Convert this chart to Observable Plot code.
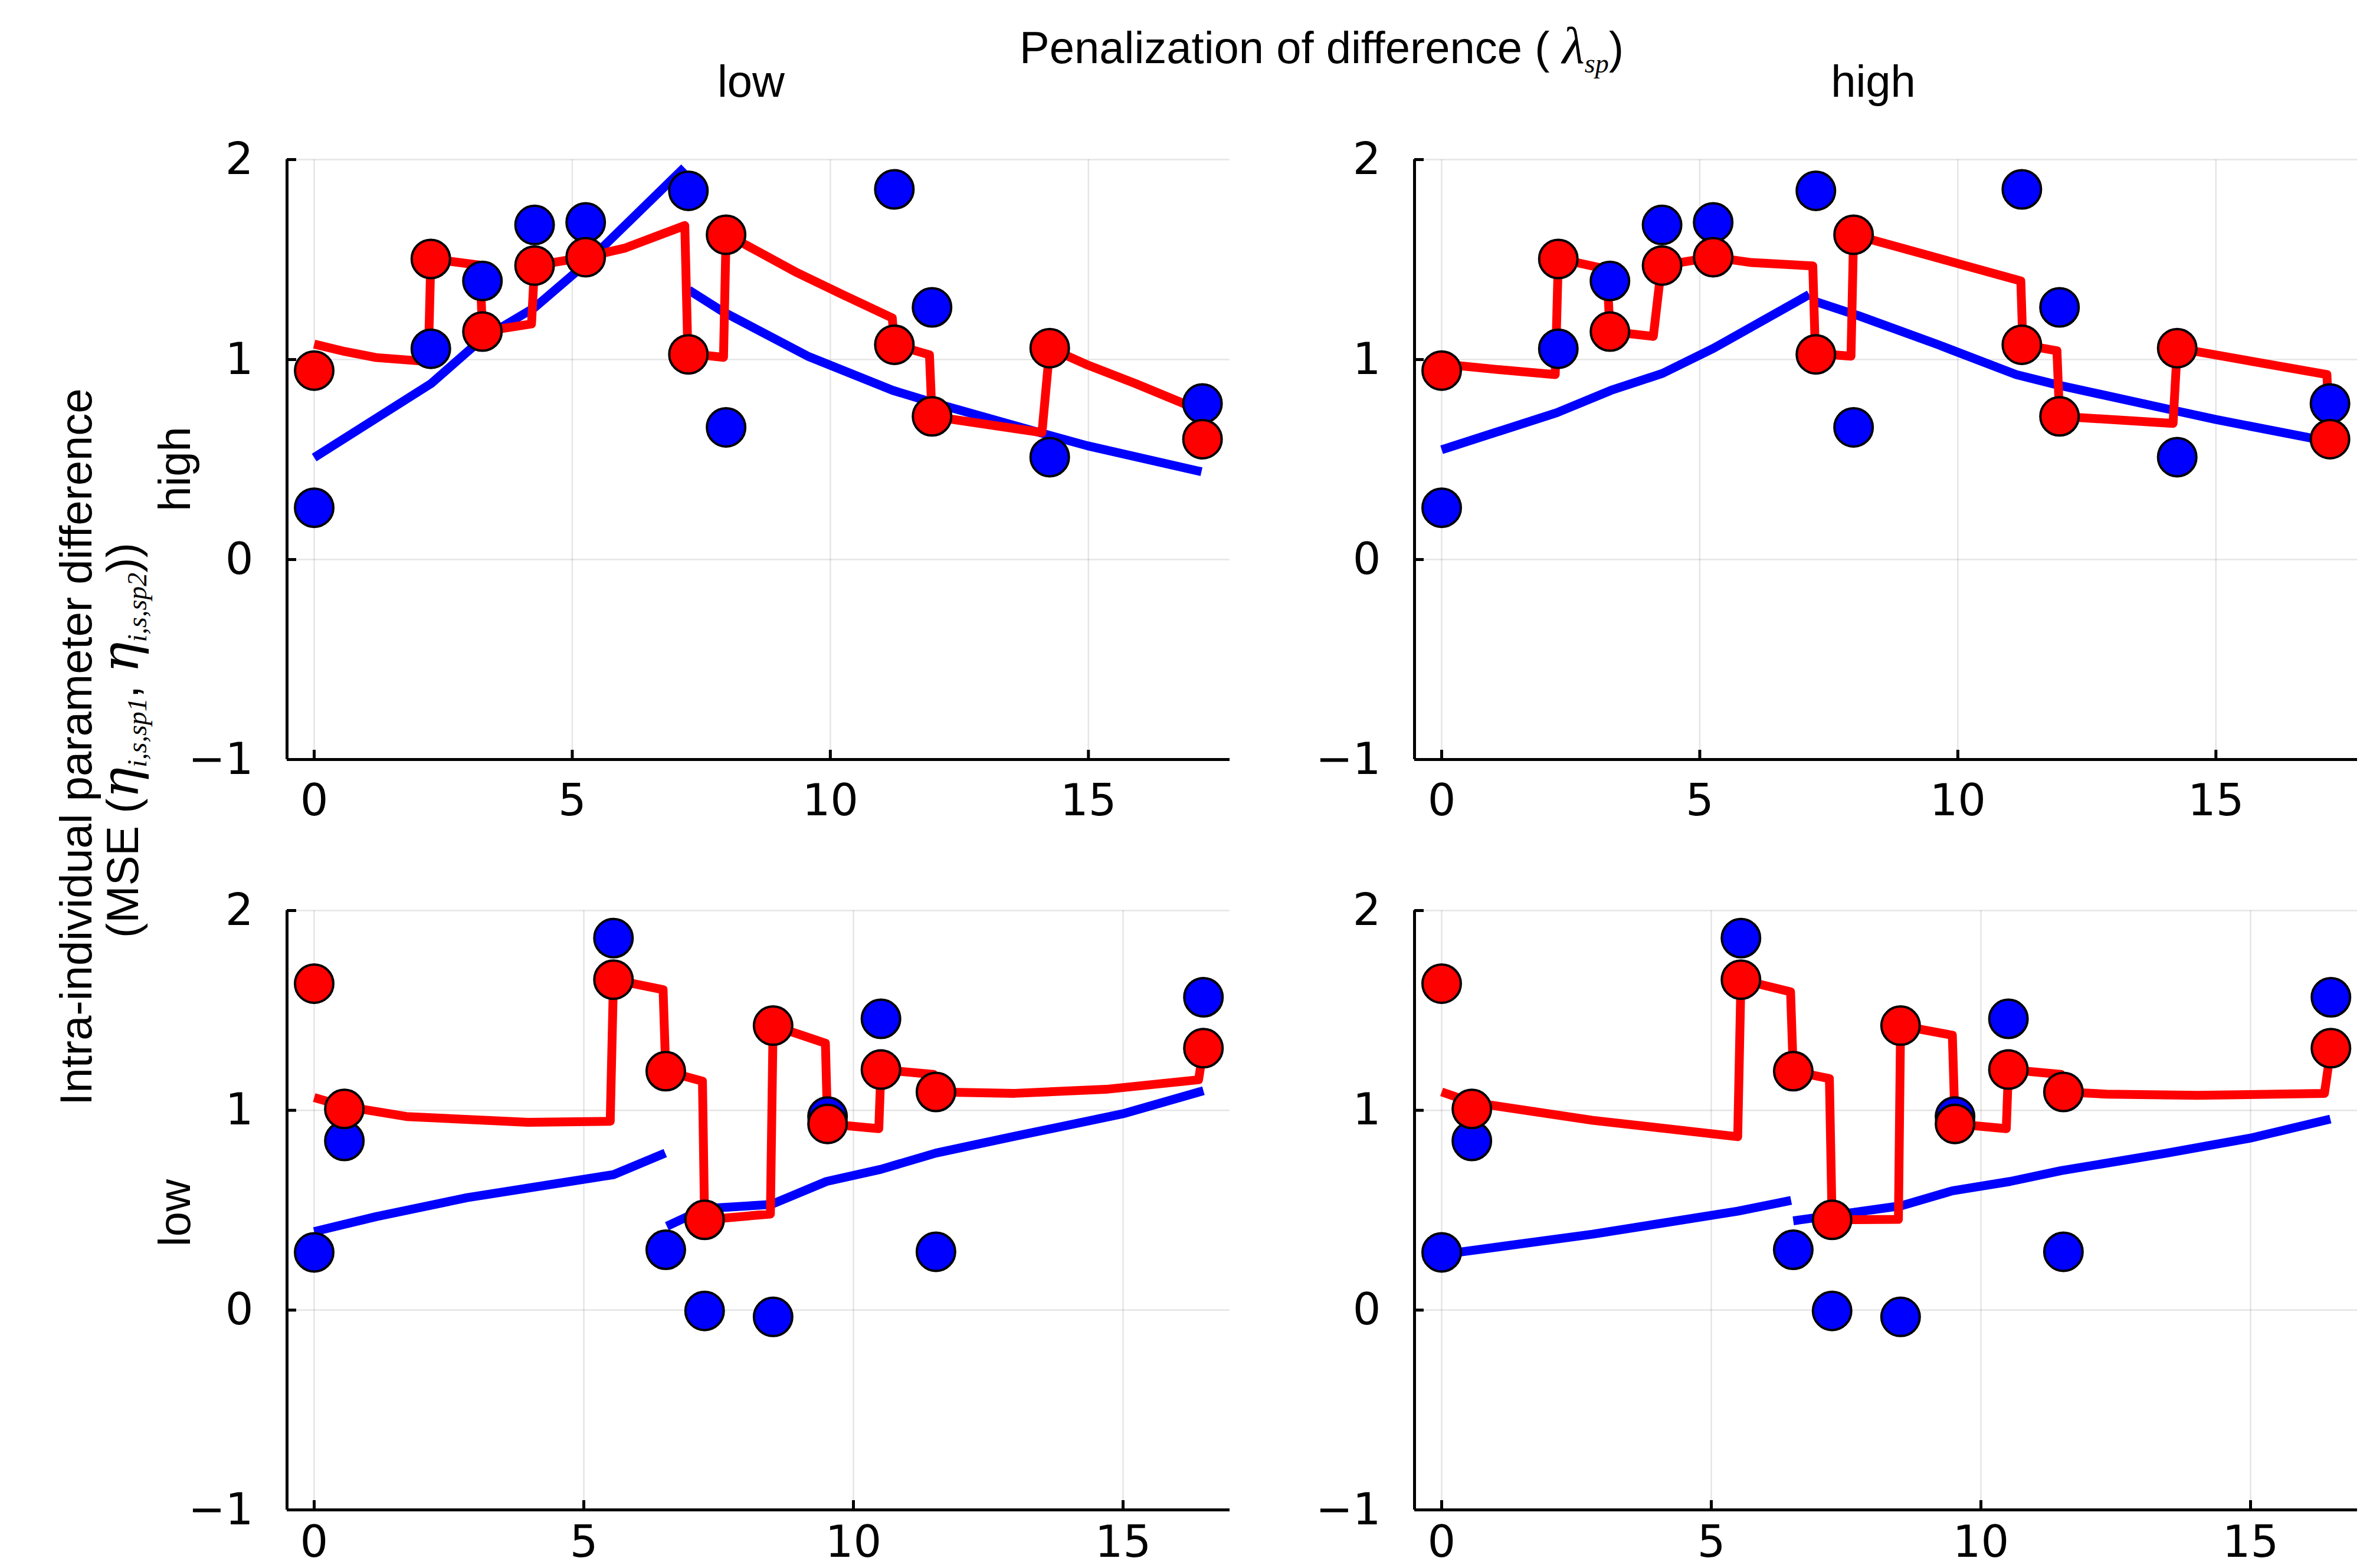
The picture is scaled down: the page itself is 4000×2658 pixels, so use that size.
<!DOCTYPE html>
<html>
<head>
<meta charset="utf-8">
<script src="https://cdn.jsdelivr.net/npm/d3@7"></script>
<script src="https://cdn.jsdelivr.net/npm/@observablehq/plot@0.6"></script>
<style>
html, body { margin: 0; padding: 0; background: #fff; }
#chart { position: relative; width: 4000px; height: 2658px; overflow: hidden; background: #fff; }
#chart svg.panel { position: absolute; }
#overlay { position: absolute; left: 0; top: 0; }
</style>
</head>
<body>
<div id="chart"></div>
<script>
// ---------- tick labels / labels ----------
const xTicks = [0, 5, 10, 15];
const yTicks = [-1, 0, 1, 2];
const yDomain = [-1, 2];
const xDomainTop = [-0.526, 17.74];
const xDomainBottom = [-0.503, 16.98];
const colLabels = ["low", "high"];
const rowLabels = ["high", "low"];
const titleText = "Penalization of difference (";
const titleSymbol = "λ";
const titleSub = "sp";
const yTitle1 = "Intra-individual parameter difference";
const yTitle2a = "(MSE (";
const etaSym = "η";
const sub1 = "i,s,sp1";
const sub2 = "i,s,sp2";

// ---------- observations ----------
const timesTop = [0, 2.26, 3.26, 4.27, 5.26, 7.25, 7.98, 11.24, 11.97, 14.25, 17.21];
const sp1Top = [0.259, 1.054, 1.393, 1.673, 1.686, 1.844, 0.661, 1.851, 1.261, 0.512, 0.78];
const sp2Top = [0.945, 1.503, 1.14, 1.47, 1.512, 1.026, 1.624, 1.074, 0.716, 1.057, 0.602];

const timesBottom = [0, 0.56, 5.55, 6.52, 7.24, 8.51, 9.52, 10.51, 11.53, 16.49];
const sp1Bottom = [0.289, 0.847, 1.862, 0.302, -0.004, -0.034, 0.969, 1.458, 0.292, 1.566];
const sp2Bottom = [1.634, 1.007, 1.654, 1.196, 0.452, 1.424, 0.932, 1.204, 1.092, 1.311];

// ---------- fitted curves (NaN = gap) ----------
// top row, low penalization
const fitTL1x = [0, 2.26, 3.26, 4.27, 5.26, 7.17, NaN, 7.26, 7.91, 9.56, 11.21, 11.97, 14.15, 14.98, 17.19];
const fitTL1y = [0.51, 0.879, 1.105, 1.26, 1.479, 1.96, NaN, 1.347, 1.241, 1.017, 0.846, 0.786, 0.628, 0.569, 0.439];
const fitTL2x = [0, 0.6, 1.2, 2.21, 2.26, 2.61, 3.21, 3.26, 4.21, 4.27, 5.26, 6.03, 7.18, 7.24, 7.93, 7.98, 8.38, 9.32, 10.27, 11.2, 11.24, 11.92, 11.97, 14.1, 14.25, 15.0, 15.92, 17.1, 17.21];
const fitTL2y = [1.077, 1.04, 1.01, 0.99, 1.505, 1.492, 1.472, 1.14, 1.178, 1.47, 1.512, 1.558, 1.67, 1.03, 1.011, 1.624, 1.571, 1.439, 1.321, 1.208, 1.074, 1.024, 0.716, 0.635, 1.057, 0.971, 0.879, 0.753, 0.602];
// top row, high penalization
const fitTR1x = [0, 2.23, 3.28, 4.28, 5.27, 7.12, NaN, 7.24, 8.09, 9.61, 11.13, 11.95, 14.06, 15.0, 17.23];
const fitTR1y = [0.549, 0.734, 0.846, 0.931, 1.057, 1.325, NaN, 1.29, 1.218, 1.075, 0.925, 0.872, 0.753, 0.70, 0.588];
const fitTR2x = [0, 1.05, 2.2, 2.26, 3.2, 3.26, 4.1, 4.26, 5.26, 6.0, 7.19, 7.24, 7.93, 7.98, 11.22, 11.26, 11.92, 11.97, 14.17, 14.25, 17.15, 17.21];
const fitTR2y = [0.978, 0.951, 0.925, 1.505, 1.452, 1.14, 1.116, 1.47, 1.512, 1.485, 1.468, 1.03, 1.017, 1.624, 1.393, 1.074, 1.044, 0.716, 0.681, 1.057, 0.925, 0.602];
// bottom row, low penalization
const fitBL1x = [0, 1.15, 2.84, 5.55, 6.51, NaN, 6.54, 7.24, 8.48, 9.5, 10.51, 11.53, 12.99, 15.0, 16.49];
const fitBL1y = [0.393, 0.468, 0.563, 0.678, 0.786, NaN, 0.42, 0.508, 0.529, 0.644, 0.705, 0.786, 0.87, 0.983, 1.098];
const fitBL2x = [0, 0.56, 1.71, 3.97, 5.49, 5.55, 6.47, 6.52, 7.2, 7.24, 8.46, 8.51, 9.48, 9.52, 10.47, 10.51, 11.48, 11.53, 12.99, 14.68, 16.4, 16.49];
const fitBL2y = [1.064, 1.02, 0.969, 0.94, 0.945, 1.654, 1.604, 1.196, 1.146, 0.452, 0.481, 1.424, 1.336, 0.932, 0.908, 1.204, 1.18, 1.092, 1.085, 1.105, 1.153, 1.311];
// bottom row, high penalization
const fitBR1x = [0, 2.8, 5.49, 6.48, NaN, 6.52, 8.52, 9.47, 10.54, 11.49, 13.45, 15.0, 16.48];
const fitBR1y = [0.278, 0.38, 0.495, 0.549, NaN, 0.447, 0.522, 0.597, 0.644, 0.698, 0.786, 0.861, 0.956];
const fitBR2x = [0, 0.56, 2.8, 5.49, 5.55, 6.47, 6.52, 7.19, 7.24, 8.47, 8.51, 9.47, 9.52, 10.47, 10.51, 11.48, 11.53, 12.33, 14.01, 16.37, 16.49];
const fitBR2y = [1.092, 1.04, 0.95, 0.868, 1.654, 1.593, 1.196, 1.159, 0.452, 0.454, 1.424, 1.376, 0.932, 0.908, 1.204, 1.18, 1.092, 1.081, 1.075, 1.085, 1.311];

// ---------- layout ----------
const PLOT_W = 1598;
const BLUE = "#0000ff", RED = "#ff0000";
const fmtTick = d3.format("d");

function makePanel(cfg) {
  const mL = 170, mR = 5, mT = 30, mB = cfg.mB;
  const obs = cfg.times.map((t, i) => ({t, sp1: cfg.sp1[i], sp2: cfg.sp2[i]}));
  const fit1 = cfg.fit1x.map((x, i) => ({x, y: cfg.fit1y[i]}));
  const fit2 = cfg.fit2x.map((x, i) => ({x, y: cfg.fit2y[i]}));
  const svg = Plot.plot({
    width: mL + PLOT_W + mR,
    height: mT + cfg.plotH + mB,
    marginLeft: mL, marginRight: mR, marginTop: mT, marginBottom: mB,
    x: {domain: cfg.xDomain, label: null},
    y: {domain: yDomain, label: null},
    style: {fontFamily: "DejaVu Sans", fontSize: "75px", background: "transparent", overflow: "visible", color: "#000"},
    marks: [
      Plot.gridX(xTicks, {stroke: "#000", strokeOpacity: 0.1, strokeWidth: 2.5}),
      Plot.gridY(yTicks, {stroke: "#000", strokeOpacity: 0.1, strokeWidth: 2.5}),
      Plot.line(fit1, {x: "x", y: "y", stroke: BLUE, strokeWidth: 15, strokeLinejoin: "round", strokeLinecap: "butt"}),
      Plot.line(fit2, {x: "x", y: "y", stroke: RED, strokeWidth: 15, strokeLinejoin: "round", strokeLinecap: "butt"}),
      Plot.dot(obs, {x: "t", y: "sp1", r: 32.5, fill: BLUE, stroke: "#000", strokeWidth: 4}),
      Plot.dot(obs, {x: "t", y: "sp2", r: 32.5, fill: RED, stroke: "#000", strokeWidth: 4}),
      Plot.ruleX([cfg.xDomain[0]], {stroke: "#000", strokeWidth: 5}),
      Plot.ruleY([yDomain[0]], {stroke: "#000", strokeWidth: 5}),
      Plot.axisX(xTicks, {tickSize: 0, tickPadding: cfg.xPad, label: null, fontSize: 75, tickFormat: fmtTick}),
      Plot.axisY(yTicks, {tickSize: 0, tickPadding: 57, label: null, fontSize: 75, tickFormat: fmtTick}),
      Plot.axisX(xTicks, {tickSize: -16, tickFormat: () => "", label: null, strokeWidth: 5}),
      Plot.axisY(yTicks, {tickSize: -16, tickFormat: () => "", label: null, strokeWidth: 5})
    ]
  });
  svg.classList.add("panel");
  svg.style.left = (cfg.left - mL) + "px";
  svg.style.top = (cfg.top - mT) + "px";
  return svg;
}

const chart = document.getElementById("chart");
chart.appendChild(makePanel({left: 486, top: 270, plotH: 1017, mB: 110, xPad: 41, xDomain: xDomainTop,
  times: timesTop, sp1: sp1Top, sp2: sp2Top, fit1x: fitTL1x, fit1y: fitTL1y, fit2x: fitTL2x, fit2y: fitTL2y}));
chart.appendChild(makePanel({left: 2397, top: 270, plotH: 1017, mB: 110, xPad: 41, xDomain: xDomainTop,
  times: timesTop, sp1: sp1Top, sp2: sp2Top, fit1x: fitTR1x, fit1y: fitTR1y, fit2x: fitTR2x, fit2y: fitTR2y}));
chart.appendChild(makePanel({left: 486, top: 1543, plotH: 1016, mB: 95, xPad: 26, xDomain: xDomainBottom,
  times: timesBottom, sp1: sp1Bottom, sp2: sp2Bottom, fit1x: fitBL1x, fit1y: fitBL1y, fit2x: fitBL2x, fit2y: fitBL2y}));
chart.appendChild(makePanel({left: 2397, top: 1543, plotH: 1016, mB: 95, xPad: 26, xDomain: xDomainBottom,
  times: timesBottom, sp1: sp1Bottom, sp2: sp2Bottom, fit1x: fitBR1x, fit1y: fitBR1y, fit2x: fitBR2x, fit2y: fitBR2y}));

// ---------- text overlay ----------
const serifI = 'font-family="Liberation Serif, Times New Roman, serif" font-style="italic"';
const overlay = `
<svg id="overlay" width="4000" height="2658" xmlns="http://www.w3.org/2000/svg"
     font-family="Liberation Sans, Arial, sans-serif" font-size="76" fill="#000">
  <text x="2240" y="107" text-anchor="middle" xml:space="preserve">${titleText} <tspan ${serifI} font-size="88">${titleSymbol}</tspan><tspan ${serifI} font-size="46" dy="16">${titleSub}</tspan><tspan dy="-16">)</tspan></text>
  <text x="1273" y="164" text-anchor="middle">${colLabels[0]}</text>
  <text x="3175" y="164" text-anchor="middle">${colLabels[1]}</text>
  <text transform="translate(322,795) rotate(-90)" text-anchor="middle">${rowLabels[0]}</text>
  <text transform="translate(322,2056) rotate(-90)" text-anchor="middle">${rowLabels[1]}</text>
  <text transform="translate(155,1266) rotate(-90)" text-anchor="middle">${yTitle1}</text>
  <text transform="translate(234,1255) rotate(-90)" text-anchor="middle" xml:space="preserve">${yTitle2a}<tspan font-family="DejaVu Serif, serif" font-style="italic" font-size="88">${etaSym}</tspan><tspan ${serifI} font-size="46" dy="14">${sub1}</tspan><tspan dy="-14">, </tspan><tspan font-family="DejaVu Serif, serif" font-style="italic" font-size="88">${etaSym}</tspan><tspan ${serifI} font-size="46" dy="14">${sub2}</tspan><tspan dy="-14">))</tspan></text>
</svg>`;
chart.insertAdjacentHTML("beforeend", overlay);
</script>
</body>
</html>
